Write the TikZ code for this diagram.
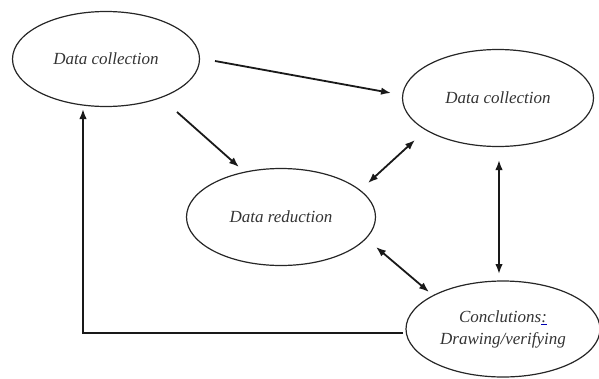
\documentclass[tikz,border=0pt]{standalone}
\usepackage{fontspec}
\setmainfont{Liberation Serif}
\usetikzlibrary{shapes.geometric,arrows.meta}
\begin{document}
\begin{tikzpicture}[x=1pt,y=-1pt,
  oval/.style={draw=black!85,line width=1.2pt,ellipse,inner sep=0pt,align=center,
    font=\fontsize{17}{22}\selectfont\itshape,text=black!80},
  tip/.style={Latex[length=10pt,width=7.5pt]},
  conn/.style={line width=1.8pt,draw=black!90,-{Latex[length=10pt,width=7.5pt]}},
  dconn/.style={line width=1.8pt,draw=black!90,{Latex[length=10pt,width=7.5pt]}-{Latex[length=10pt,width=7.5pt]}}]
\useasboundingbox (0,0) rectangle (599,378);
\node[oval,minimum width=187pt,minimum height=95pt] (e1) at (106,59) {Data collection};
\node[oval,minimum width=191pt,minimum height=97pt] (e2) at (498,98) {Data collection};
\node[oval,minimum width=189pt,minimum height=97pt] (e3) at (281,217) {Data reduction};
\node[oval,minimum width=194pt,minimum height=96pt] (e4) at (503,329) {Conclutions\textcolor{blue!70!black}{\underline{\textcolor{black!80}{:}}}\\Drawing/verifying};
\coordinate (a1s) at (215,61);
\coordinate (a1e) at (391,93);
\coordinate (a2s) at (177,112);
\coordinate (a2e) at (239,167);
\coordinate (a3s) at (415,140);
\coordinate (a3e) at (368,183);
\coordinate (a4s) at (499,160);
\coordinate (a4e) at (499,274);
\coordinate (a5s) at (376,247);
\coordinate (a5e) at (429,292);
\coordinate (r1) at (403,333);
\coordinate (r2) at (83,109);
\draw[conn] (a1s) -- (a1e);
\draw[conn] (a2s) -- (a2e);
\draw[dconn] (a3s) -- (a3e);
\draw[dconn] (a4s) -- (a4e);
\draw[dconn] (a5s) -- (a5e);
\draw[conn] (r1) -| (r2);
\end{tikzpicture}
\end{document}
